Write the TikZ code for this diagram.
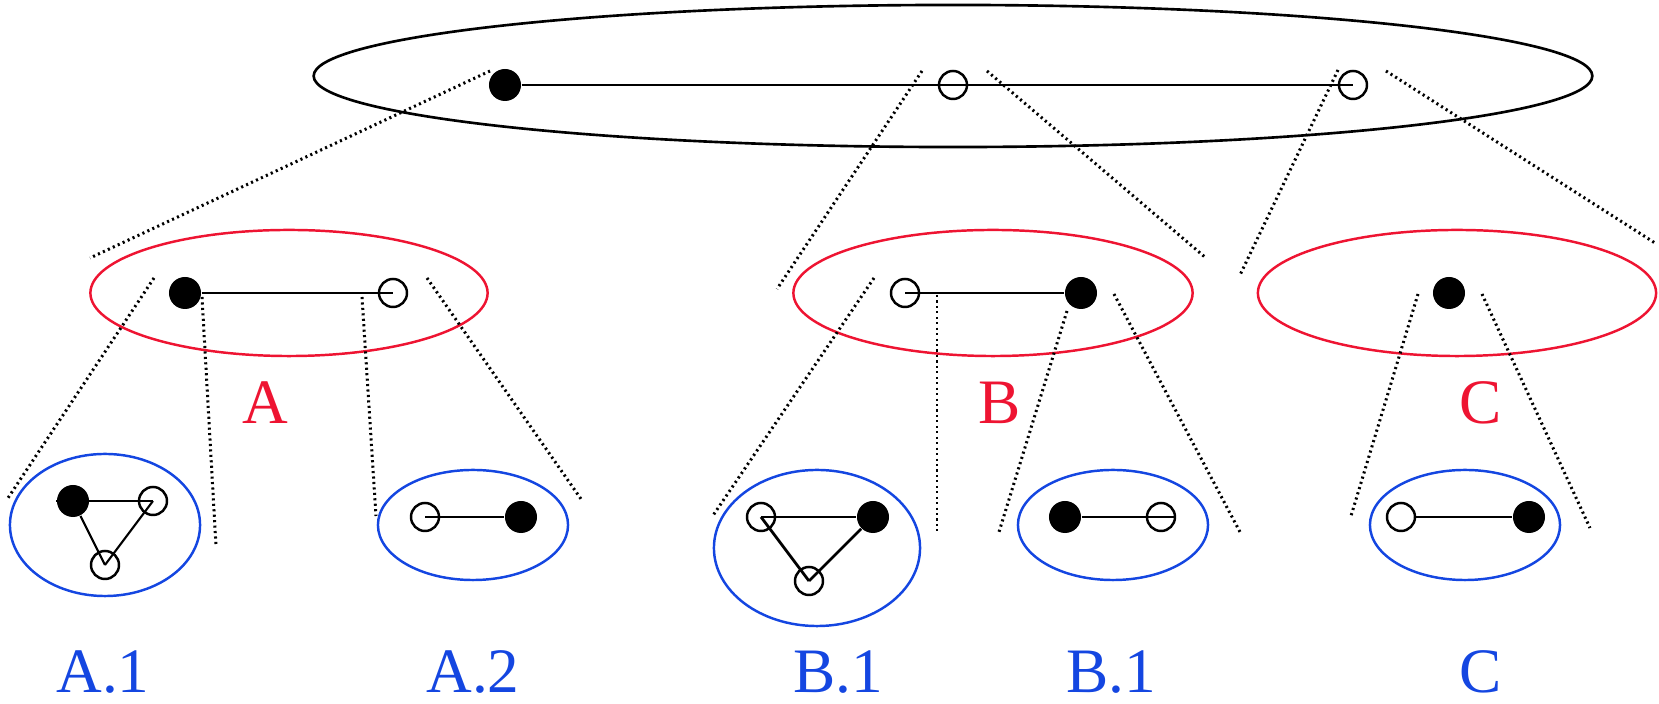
\documentclass[tikz,border=0pt]{standalone}
\usepackage{fontspec}
\setmainfont{Liberation Serif}
\usetikzlibrary{shapes.geometric, positioning}
\definecolor{red1}{RGB}{238, 20, 50}
\definecolor{blue1}{RGB}{20, 70, 225}

\begin{document}
\begin{tikzpicture}[x=0.01cm, y=-0.01cm,
    blob/.style={circle, fill=black, inner sep=0pt, minimum size=0.32cm},
    hole/.style={circle, draw, line width=0.7pt, inner sep=0pt, minimum size=0.28cm},
    topset/.style={ellipse, draw, line width=0.75pt, inner sep=0pt},
    redset/.style={ellipse, draw=red1, line width=0.7pt, inner sep=0pt},
    blueset/.style={ellipse, draw=blue1, line width=0.7pt, inner sep=0pt},
    redlabel/.style={anchor=base, inner sep=0pt, text=red1, font=\fontsize{18}{20}\selectfont},
    bluelabel/.style={anchor=base, inner sep=0pt, text=blue1, font=\fontsize{18}{20}\selectfont},
    edge/.style={line width=0.8pt},
    thinedge/.style={line width=0.6pt},
    zoomline/.style={line width=0.85pt, dash pattern=on 0.6pt off 0.95pt}]
    \useasboundingbox (0,0) rectangle (1659,704);

    % top level
    \node[topset, minimum width=12.78cm, minimum height=1.42cm] (top) at (953,76) {};
    \node[blob] (t1) at (505,85) {};
    \node[hole] (t2) at (953,85) {};
    \node[hole] (t3) at (1353,85) {};
    \draw[edge] (t1) -- (t3.center);

    % second level
    \node[redset, minimum width=3.97cm, minimum height=1.26cm] (setA) at (289,293) {};
    \node[redset, minimum width=3.99cm, minimum height=1.26cm] (setB) at (993,293) {};
    \node[redset, minimum width=3.98cm, minimum height=1.26cm] (setC) at (1457,293) {};
    \node[blob] (a1) at (185,293) {};
    \node[hole] (a2) at (393,293) {};
    \draw[edge] (a1) -- (a2.center);
    \node[hole] (b1) at (905,293) {};
    \node[blob] (b2) at (1081,293) {};
    \draw[edge] (b1.center) -- (b2);
    \node[blob] (c1) at (1449,293) {};
    \node[redlabel] (labA) at (265,424) {A};
    \node[redlabel] (labB) at (1000,424) {B};
    \node[redlabel] (labC) at (1481,424) {C};

    % third level
    \node[blueset, minimum width=1.90cm, minimum height=1.42cm] (setA1) at (105,525) {};
    \node[blueset, minimum width=1.90cm, minimum height=1.10cm] (setA2) at (473,525) {};
    \node[blueset, minimum width=2.06cm, minimum height=1.56cm] (setB1) at (817,548) {};
    \node[blueset, minimum width=1.90cm, minimum height=1.10cm] (setB2) at (1113,525) {};
    \node[blueset, minimum width=1.90cm, minimum height=1.10cm] (setC1) at (1465,525) {};

    \node[blob] (p1) at (73,501) {};
    \node[hole] (p2) at (153,501) {};
    \node[hole] (p3) at (105,565) {};
    \draw[edge] (p1.west) -- (p2.center);
    \draw[thinedge] (p1) -- (p3.center);
    \draw[thinedge] (p2.center) -- (p3.center);

    \node[hole] (q1) at (425,517) {};
    \node[blob] (q2) at (521,517) {};
    \draw[edge] (q1.center) -- (q2);

    \node[hole] (r1) at (761,517) {};
    \node[blob] (r2) at (873,517) {};
    \node[hole] (r3) at (809,581) {};
    \draw[edge] (r1.center) -- (r2);
    \draw[edge] (r1.center) -- (r3.center);
    \draw[edge] (r2) -- (r3.center);

    \node[blob] (s1) at (1065,517) {};
    \node[hole] (s2) at (1161,517) {};
    \draw[edge] (s1) -- (s2.east);

    \node[hole] (u1) at (1401,517) {};
    \node[blob] (u2) at (1529,517) {};
    \draw[edge] (u1) -- (u2);

    \node[bluelabel] (labA1) at (103,693) {A.1};
    \node[bluelabel] (labA2) at (473,693) {A.2};
    \node[bluelabel] (labB1) at (838,693) {B.1};
    \node[bluelabel] (labB2) at (1111,693) {B.1};
    \node[bluelabel] (labC1) at (1481,693) {C};

    % zoom lines
    \coordinate (z1) at (490,71);   \coordinate (z1e) at (90,258);
    \coordinate (z2) at (922,71);   \coordinate (z2e) at (777,289);
    \coordinate (z3) at (987,71);   \coordinate (z3e) at (1206,258);
    \coordinate (z4) at (1338,70);  \coordinate (z4e) at (1240,275);
    \coordinate (z5) at (1386,71);  \coordinate (z5e) at (1655,243);
    \coordinate (za1) at (154,278); \coordinate (za1e) at (8,498);
    \coordinate (za2) at (202,297); \coordinate (za2e) at (216,546);
    \coordinate (za3) at (362,297); \coordinate (za3e) at (376,516);
    \coordinate (za4) at (427,278); \coordinate (za4e) at (581,499);
    \coordinate (zb1) at (874,278); \coordinate (zb1e) at (712,517);
    \coordinate (zb2) at (937,295); \coordinate (zb2e) at (937,532);
    \coordinate (zb3) at (1067,311); \coordinate (zb3e) at (999,532);
    \coordinate (zb4) at (1114,294); \coordinate (zb4e) at (1240,532);
    \coordinate (zc1) at (1418,294); \coordinate (zc1e) at (1351,516);
    \coordinate (zc2) at (1482,294); \coordinate (zc2e) at (1590,528);
    \foreach \z in {z1, z2, z3, z4, z5, za1, za2, za3, za4, zb1, zb2, zb3, zb4, zc1, zc2}
        \draw[zoomline] (\z) -- (\z e);
\end{tikzpicture}
\end{document}
